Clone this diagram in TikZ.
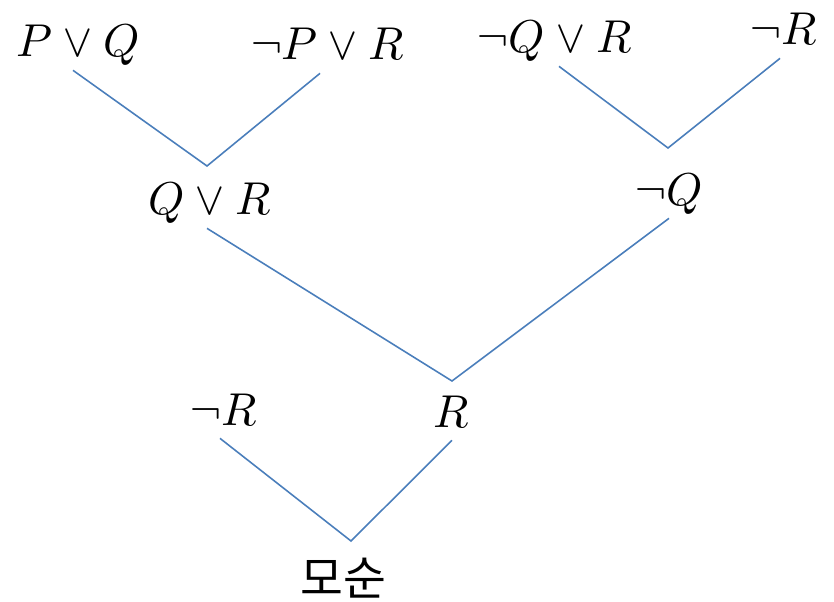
\documentclass[tikz,border=0pt]{standalone}
\usepackage{amsmath}
\usepackage{fontspec}
\usepackage{unicode-math}
\setmathfont{Latin Modern Math}
\newfontfamily\kor{Noto Sans CJK KR}
\usepackage{xcolor}
\usepackage{tikz}
\definecolor{lineblue}{HTML}{4A7EBB}
\tikzstyle{clause} = [anchor=base, text depth=0pt, inner xsep=2pt, inner ysep=0.26cm, font=\fontsize{26.2}{32}\selectfont]
\tikzstyle{edge} = [draw=lineblue, line width=0.9pt]

\begin{document}
\begin{tikzpicture}
    \useasboundingbox (0,0) rectangle (16.68,-12.04);

    \node[clause] (pq) at (1.56,-1.14) {$P \vee Q$};
    \node[clause] (npr) at (6.56,-1.20) {$\neg P \vee R$};
    \node[clause] (nqr) at (11.10,-1.06) {$\neg Q \vee R$};
    \node[clause] (nr1) at (15.68,-0.90) {$\neg R$};
    \node[clause] (qr) at (4.20,-4.30) {$Q \vee R$};
    \node[clause] (nq) at (13.38,-4.10) {$\neg Q$};
    \node[clause] (nr2) at (4.48,-8.50) {$\neg R$};
    \node[clause] (r) at (9.04,-8.54) {$R$};
    \node[anchor=base, inner sep=0pt, font=\fontsize{26.5}{30}\selectfont\kor] (contra) at (6.86,-11.90) {모순};

    % Meeting points
    \coordinate (m1) at (4.14,-3.32);
    \coordinate (m2) at (13.36,-2.96);
    \coordinate (m3) at (9.04,-7.62);
    \coordinate (m4) at (7.02,-10.82);

    % Edges
    \draw[edge] ([xshift=-0.1cm]pq.south) -- (m1) -- ([xshift=-0.16cm]npr.south);
    \draw[edge] ([xshift=0.08cm]nqr.south) -- (m2) -- ([xshift=-0.08cm]nr1.south);
    \draw[edge] ([xshift=-0.06cm]qr.south) -- (m3) -- (nq.south);
    \draw[edge] ([xshift=-0.08cm]nr2.south) -- (m4) -- (r.south);
\end{tikzpicture}
\end{document}
